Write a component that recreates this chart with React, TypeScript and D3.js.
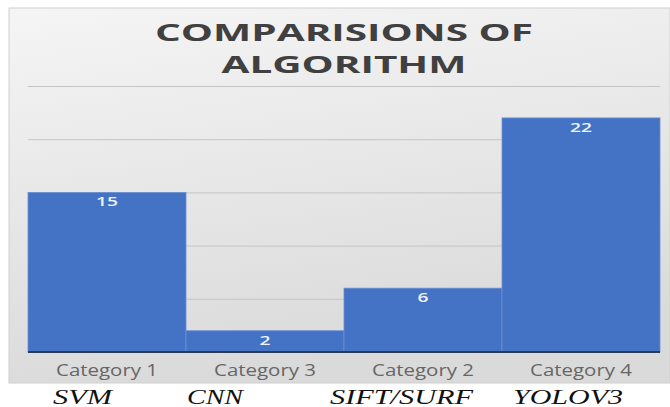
import React, { useEffect, useRef } from "react";
import * as d3 from "d3";

// chart data
const categories = ["Category 1", "Category 3", "Category 2", "Category 4"];
const values = [15, 2, 6, 22];
const algorithms = ["SVM", "CNN", "SIFT/SURF", "YOLOV3"];
const gridTicks = [5, 10, 15, 20, 25];
const titleLines = ["COMPARISIONS OF", "ALGORITHM"];

const W = 670, H = 407;

const App = () => {
  const svgRef = useRef<SVGSVGElement>(null);

  useEffect(() => {
    const svg = d3.select(svgRef.current);
    svg.selectAll("*").remove();

    // source image is stretched sideways, so text gets fixed lengths
    const plot = { left: 28, right: 660, top: 86, bottom: 352 };
    const x = d3.scaleBand().domain(categories).range([plot.left, plot.right]).padding(0);
    const y = d3.scaleLinear().domain([0, 25]).range([plot.bottom, plot.top]);

    const defs = svg.append("defs");
    const grad = defs.append("linearGradient").attr("id", "bg").attr("x1", 0).attr("y1", 0).attr("x2", 0.25).attr("y2", 1);
    grad.append("stop").attr("offset", "0%").attr("stop-color", "#f5f5f5");
    grad.append("stop").attr("offset", "100%").attr("stop-color", "#dadada");

    svg.append("rect").attr("width", W).attr("height", H).attr("fill", "#ffffff");
    svg.append("rect")
      .attr("x", 9).attr("y", 8).attr("width", 661).attr("height", 375)
      .attr("fill", "url(#bg)").attr("stroke", "#d0d0d0").attr("stroke-width", 1);

    // title
    const titleWidths = [378, 245];
    const cx = (plot.left + plot.right) / 2;
    svg.selectAll("text.title").data(titleLines).enter().append("text")
      .attr("class", "title")
      .attr("x", cx).attr("y", (_, i) => 41 + i * 32)
      .attr("text-anchor", "middle")
      .attr("font-family", "'Open Sans', sans-serif").attr("font-weight", 700).attr("font-size", 23)
      .attr("fill", "#404040")
      .attr("textLength", (_, i) => titleWidths[i]).attr("lengthAdjust", "spacingAndGlyphs")
      .text(d => d);

    // gridlines
    svg.selectAll("line.grid").data(gridTicks).enter().append("line")
      .attr("x1", plot.left).attr("x2", plot.right)
      .attr("y1", d => y(d) + 0.5).attr("y2", d => y(d) + 0.5)
      .attr("stroke", "#c4c4c4").attr("stroke-width", 1);

    // bars
    svg.selectAll("rect.bar").data(values).enter().append("rect")
      .attr("x", (_, i) => x(categories[i])!)
      .attr("y", d => y(d))
      .attr("width", x.bandwidth())
      .attr("height", d => y(0) - y(d))
      .attr("fill", "#4472c4")
      .attr("stroke", "#6d90d2").attr("stroke-width", 0.8);

    // value labels
    svg.selectAll("text.val").data(values).enter().append("text")
      .attr("x", (_, i) => x(categories[i])! + x.bandwidth() / 2)
      .attr("y", d => y(d) + 14)
      .attr("text-anchor", "middle")
      .attr("font-family", "'Open Sans', sans-serif").attr("font-weight", 600).attr("font-size", 13)
      .attr("fill", "#eef2fa")
      .attr("textLength", d => (String(d).length > 1 ? 22 : 11)).attr("lengthAdjust", "spacingAndGlyphs")
      .text(d => d);

    // baseline
    svg.append("line")
      .attr("x1", plot.left).attr("x2", plot.right)
      .attr("y1", y(0)).attr("y2", y(0))
      .attr("stroke", "#2b3a55").attr("stroke-width", 2);

    // category labels
    svg.selectAll("text.cat").data(categories).enter().append("text")
      .attr("x", d => x(d)! + x.bandwidth() / 2)
      .attr("y", 376)
      .attr("text-anchor", "middle")
      .attr("font-family", "'Open Sans', sans-serif").attr("font-size", 16)
      .attr("fill", "#666666")
      .attr("textLength", 102).attr("lengthAdjust", "spacingAndGlyphs")
      .text(d => d);

    // algorithm names under the panel
    const algoX = [53, 187, 330, 513];
    const algoLen = [59, 56, 143, 110];
    svg.selectAll("text.algo").data(algorithms).enter().append("text")
      .attr("x", (_, i) => algoX[i])
      .attr("y", 404)
      .attr("font-family", "'Liberation Serif', 'Times New Roman', serif").attr("font-style", "italic").attr("font-size", 20)
      .attr("fill", "#111111")
      .attr("textLength", (_, i) => algoLen[i]).attr("lengthAdjust", "spacingAndGlyphs")
      .text(d => d);
  }, []);

  return (
    <svg ref={svgRef} width={W} height={H} style={{ position: "absolute", left: 0, top: 0 }}></svg>
  );
};

export default App;
